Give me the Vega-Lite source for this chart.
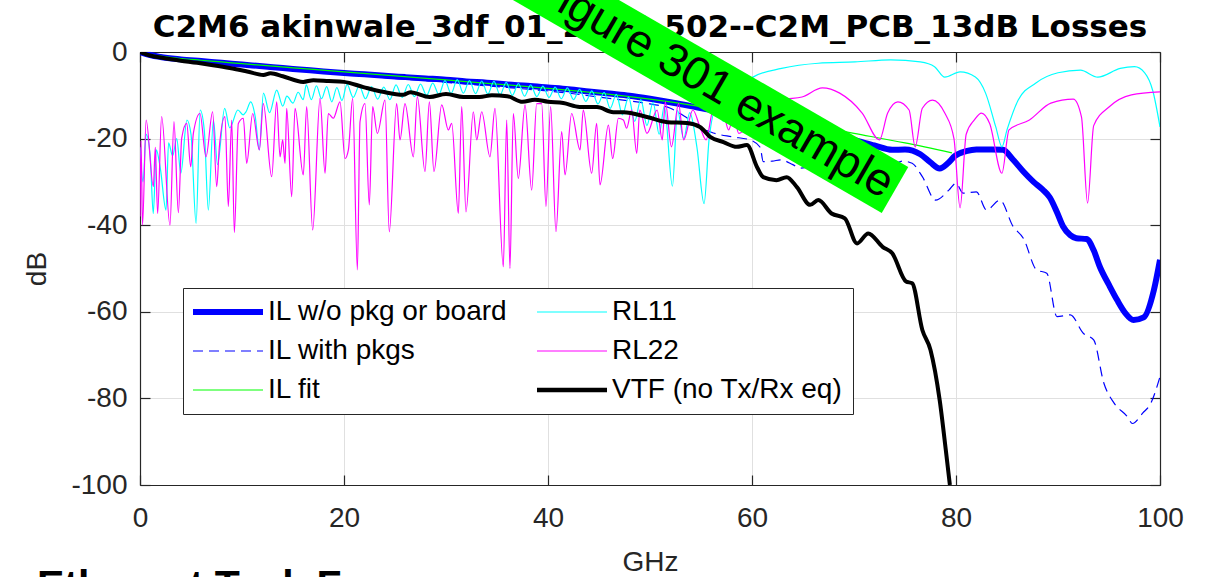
{
"$schema": "https://vega.github.io/schema/vega-lite/v6.json",
"width": 1020, "height": 433,
"autosize": {"type": "none"},
"padding": {"left": 140, "top": 52, "right": 49, "bottom": 92},
"background": "#ffffff",
"config": {
  "font": "Liberation Sans",
  "view": {"stroke": null},
  "legend": {"orient": "none", "legendX": 43, "legendY": 236, "columns": 2, "padding": 10, "strokeColor": "#262626", "fillColor": "#ffffff", "symbolType": "M-3.5,0H3.5", "symbolSize": 400, "symbolOffset": 21, "labelOffset": 26, "labelFontSize": 28, "labelFont": "Liberation Sans", "labelColor": "#000000", "labelLimit": 600, "rowPadding": 11, "columnPadding": 20, "gridAlign": "each", "symbolStrokeWidth": 1.2}
},
"datasets": {
  "A": [{"f":0,"d":0},{"f":1,"d":-0.7},{"f":2,"d":-1.15},{"f":4,"d":-1.7},{"f":6,"d":-2.1},{"f":8,"d":-2.5},{"f":10,"d":-2.9},{"f":12,"d":-3.3},{"f":14,"d":-3.7},{"f":16,"d":-4.1},{"f":18,"d":-4.5},{"f":20,"d":-4.85},{"f":22,"d":-5.15},{"f":24,"d":-5.5},{"f":26,"d":-5.8},{"f":28,"d":-6.1},{"f":30,"d":-6.4},{"f":32,"d":-6.8},{"f":34,"d":-7.1},{"f":36,"d":-7.5},{"f":38,"d":-7.8},{"f":40,"d":-8.2},{"f":42,"d":-8.6},{"f":44,"d":-9.1},{"f":46,"d":-9.6},{"f":48,"d":-10.1},{"f":50,"d":-10.8},{"f":52,"d":-11.6},{"f":54,"d":-12.5},{"f":56,"d":-13.4},{"f":58,"d":-14.2},{"f":60,"d":-15},{"f":62,"d":-16},{"f":64,"d":-17},{"f":66,"d":-18},{"f":68,"d":-19.2},{"f":70,"d":-20.3},{"f":72,"d":-21.6},{"f":73.75,"d":-22.6},{"f":75,"d":-22.5},{"f":76.5,"d":-23.6},{"f":77.5,"d":-25.5},{"f":78.4,"d":-26.9},{"f":79.2,"d":-25.7},{"f":79.9,"d":-24},{"f":81,"d":-22.9},{"f":82,"d":-22.5},{"f":83.5,"d":-22.5},{"f":84.6,"d":-22.6},{"f":85.6,"d":-24.9},{"f":86.6,"d":-27.6},{"f":87.6,"d":-30},{"f":88.5,"d":-31.8},{"f":89.2,"d":-33.6},{"f":89.9,"d":-37},{"f":90.5,"d":-40.3},{"f":91.2,"d":-42.3},{"f":91.8,"d":-43},{"f":92.8,"d":-43.2},{"f":93.5,"d":-45.8},{"f":94.1,"d":-49.6},{"f":95,"d":-53.8},{"f":95.8,"d":-57.3},{"f":96.6,"d":-60.3},{"f":97.4,"d":-61.9},{"f":98.4,"d":-61.3},{"f":99.4,"d":-55},{"f":100,"d":-48}],
  "B": [{"f":0,"d":0},{"f":1,"d":-0.8},{"f":2,"d":-1.3},{"f":4,"d":-1.8},{"f":6,"d":-2.2},{"f":8,"d":-2.7},{"f":10,"d":-3.1},{"f":12,"d":-3.5},{"f":14,"d":-3.9},{"f":16,"d":-4.4},{"f":18,"d":-4.8},{"f":20,"d":-5.2},{"f":22,"d":-5.5},{"f":24,"d":-5.9},{"f":26,"d":-6.3},{"f":28,"d":-6.6},{"f":30,"d":-7},{"f":32,"d":-7.4},{"f":34,"d":-7.8},{"f":36,"d":-8.2},{"f":38,"d":-8.6},{"f":40,"d":-9},{"f":42,"d":-9.5},{"f":44,"d":-10.1},{"f":46,"d":-10.7},{"f":48,"d":-11.3},{"f":50,"d":-12},{"f":52,"d":-13},{"f":53.6,"d":-15.2},{"f":55,"d":-17.5},{"f":56.2,"d":-18.7},{"f":58.1,"d":-19.6},{"f":59.8,"d":-20.3},{"f":60.8,"d":-22},{"f":61.1,"d":-25.3},{"f":62,"d":-25.2},{"f":62.8,"d":-24.9},{"f":64,"d":-26},{"f":64.7,"d":-26.8},{"f":66,"d":-26.5},{"f":67.5,"d":-27.5},{"f":69,"d":-27},{"f":70.5,"d":-28.5},{"f":72,"d":-27.5},{"f":73.5,"d":-26.5},{"f":74.8,"d":-25.2},{"f":75.7,"d":-25.7},{"f":76.7,"d":-28.8},{"f":78,"d":-34.2},{"f":79.3,"d":-31.9},{"f":80,"d":-30.3},{"f":80.7,"d":-32.6},{"f":82,"d":-32.3},{"f":83,"d":-36.5},{"f":84.3,"d":-34.2},{"f":85.6,"d":-40.3},{"f":86.6,"d":-43},{"f":87.9,"d":-50.3},{"f":88.9,"d":-51.1},{"f":89.9,"d":-61.1},{"f":91.2,"d":-60.7},{"f":92.5,"d":-65},{"f":93.5,"d":-66.5},{"f":94.5,"d":-76.5},{"f":95.5,"d":-81.1},{"f":96.8,"d":-84.2},{"f":97.3,"d":-85.8},{"f":98.3,"d":-83.4},{"f":99.1,"d":-81.1},{"f":100,"d":-75}],
  "C": [{"f":0,"d":0},{"f":1,"d":-0.6},{"f":2,"d":-0.95},{"f":4,"d":-1.5},{"f":6,"d":-1.9},{"f":8,"d":-2.3},{"f":10,"d":-2.7},{"f":15,"d":-3.65},{"f":20,"d":-4.6},{"f":25,"d":-5.5},{"f":30,"d":-6.45},{"f":35,"d":-7.4},{"f":40,"d":-8.4},{"f":45,"d":-9.5},{"f":50,"d":-10.9},{"f":55,"d":-12.6},{"f":60,"d":-14.6},{"f":65,"d":-16.6},{"f":70,"d":-18.8},{"f":75,"d":-21},{"f":79.6,"d":-23.3}],
  "D": [{"f":0,"d":0},{"f":1,"d":-0.8},{"f":2.3,"d":-1.4},{"f":4,"d":-2},{"f":5.6,"d":-2.5},{"f":7,"d":-3},{"f":8.8,"d":-3.7},{"f":10.5,"d":-4.5},{"f":12.1,"d":-5.3},{"f":12.8,"d":-4.9},{"f":14,"d":-5.6},{"f":16,"d":-6.9},{"f":17,"d":-6.5},{"f":18.5,"d":-6.7},{"f":20,"d":-6.9},{"f":21.9,"d":-8.1},{"f":23.8,"d":-9.2},{"f":25.8,"d":-9.9},{"f":26.5,"d":-9.3},{"f":28.4,"d":-10.4},{"f":30,"d":-9.7},{"f":31.7,"d":-10.4},{"f":33.3,"d":-10.4},{"f":34.5,"d":-10},{"f":36,"d":-10.2},{"f":37.5,"d":-11.5},{"f":38.7,"d":-11},{"f":40,"d":-11.5},{"f":41.5,"d":-11.8},{"f":43.1,"d":-12.7},{"f":44.8,"d":-12.7},{"f":46.4,"d":-13.9},{"f":47.4,"d":-13.9},{"f":49.7,"d":-15},{"f":51.7,"d":-16.2},{"f":53.6,"d":-16.4},{"f":54.9,"d":-17.3},{"f":55.9,"d":-19.6},{"f":57.2,"d":-20.8},{"f":58.5,"d":-21.9},{"f":59.5,"d":-21.5},{"f":60.5,"d":-26.6},{"f":61.1,"d":-28.9},{"f":62.4,"d":-29.6},{"f":63.4,"d":-28.9},{"f":64.4,"d":-31.2},{"f":65.7,"d":-35.3},{"f":66.5,"d":-34.2},{"f":67.8,"d":-37.3},{"f":69.1,"d":-38.4},{"f":70.3,"d":-44.2},{"f":71.4,"d":-41.9},{"f":72.8,"d":-45},{"f":73.75,"d":-46.5},{"f":75.1,"d":-53},{"f":75.7,"d":-53.4},{"f":76.7,"d":-64.2},{"f":77.5,"d":-68.8},{"f":78.4,"d":-80.4},{"f":79,"d":-91.9},{"f":79.4,"d":-100}],
  "E": [{"f":0,"d":-22},{"f":0.3,"d":-30},{"f":0.6,"d":-19},{"f":1,"d":-24},{"f":1.3,"d":-37.3},{"f":1.6,"d":-22.6},{"f":2,"d":-27},{"f":2.55,"d":-36.5},{"f":2.8,"d":-21},{"f":3.2,"d":-24},{"f":3.6,"d":-20},{"f":4,"d":-28},{"f":4.6,"d":-15.7},{"f":5,"d":-19},{"f":5.5,"d":-39.6},{"f":5.9,"d":-13.4},{"f":6.3,"d":-18},{"f":6.7,"d":-36.5},{"f":7.2,"d":-15.7},{"f":7.6,"d":-26},{"f":8.3,"d":-13},{"f":8.8,"d":-17.5},{"f":9.6,"d":-13.4},{"f":10.1,"d":-14.5},{"f":10.4,"d":-13.8},{"f":10.85,"d":-11.5},{"f":11.3,"d":-15},{"f":11.7,"d":-22.6},{"f":12.1,"d":-9.5},{"f":12.7,"d":-14},{"f":13.4,"d":-8.8},{"f":14,"d":-12.5},{"f":14.4,"d":-10.2},{"f":15,"d":-11.8},{"f":15.5,"d":-9.3},{"f":16,"d":-11},{"f":16.3,"d":-7.6},{"f":16.8,"d":-11},{"f":17.3,"d":-7.8},{"f":17.8,"d":-10.8},{"f":18.3,"d":-8},{"f":18.8,"d":-11.5},{"f":19.3,"d":-8.2},{"f":19.8,"d":-11.2},{"f":20.3,"d":-7.5},{"f":20.9,"d":-10.5},{"f":21.5,"d":-7.8},{"f":22.1,"d":-10.8},{"f":22.7,"d":-8},{"f":23.3,"d":-10.9},{"f":23.9,"d":-8.1},{"f":24.5,"d":-11},{"f":25.1,"d":-7.6},{"f":25.7,"d":-10.5},{"f":26.3,"d":-7.5},{"f":26.9,"d":-10.3},{"f":27.5,"d":-7.4},{"f":28.1,"d":-10},{"f":28.7,"d":-7.2},{"f":29.3,"d":-9.8},{"f":29.9,"d":-6.6},{"f":30.5,"d":-9.6},{"f":31.1,"d":-6.4},{"f":31.7,"d":-9.5},{"f":32.3,"d":-6.6},{"f":32.9,"d":-9.6},{"f":33.5,"d":-6.7},{"f":34.1,"d":-9.7},{"f":34.7,"d":-6.8},{"f":35.3,"d":-9.9},{"f":35.9,"d":-7},{"f":36.5,"d":-10},{"f":37.1,"d":-7.3},{"f":37.7,"d":-10.2},{"f":38.3,"d":-7.6},{"f":38.9,"d":-10.3},{"f":39.5,"d":-7.9},{"f":40.1,"d":-10.5},{"f":40.7,"d":-8.1},{"f":41.3,"d":-10.8},{"f":41.9,"d":-8.3},{"f":42.5,"d":-11},{"f":43.1,"d":-8.6},{"f":43.7,"d":-11.4},{"f":44.3,"d":-9},{"f":44.9,"d":-12},{"f":45.5,"d":-9.3},{"f":46.1,"d":-13},{"f":46.7,"d":-9.8},{"f":47.3,"d":-14.5},{"f":47.9,"d":-10.4},{"f":48.5,"d":-16},{"f":49.1,"d":-11},{"f":49.7,"d":-17},{"f":50.3,"d":-11.6},{"f":50.9,"d":-19},{"f":51.4,"d":-12.5},{"f":52.2,"d":-31},{"f":52.7,"d":-13.5},{"f":53.3,"d":-20},{"f":53.9,"d":-14},{"f":54.6,"d":-22},{"f":55.3,"d":-35},{"f":55.8,"d":-20},{"f":56.5,"d":-13},{"f":57.2,"d":-16},{"f":58,"d":-11},{"f":59,"d":-8.5},{"f":60.1,"d":-5.8},{"f":62.9,"d":-3.8},{"f":66.5,"d":-2.6},{"f":70.1,"d":-2.3},{"f":73.6,"d":-1.8},{"f":76.5,"d":-2.3},{"f":77.9,"d":-3.4},{"f":78.9,"d":-5.8},{"f":80.4,"d":-4.6},{"f":81.9,"d":-5.8},{"f":82.9,"d":-9.5},{"f":83.9,"d":-17.3},{"f":84.5,"d":-21.9},{"f":85,"d":-18},{"f":86.1,"d":-11.1},{"f":87.8,"d":-7.2},{"f":90,"d":-4.8},{"f":92.2,"d":-4.2},{"f":93.9,"d":-5.8},{"f":96.1,"d":-3.8},{"f":97.5,"d":-3.4},{"f":98.5,"d":-4.8},{"f":99.3,"d":-9},{"f":100,"d":-17.3}],
  "F": [{"f":0,"d":-38},{"f":0.1,"d":-20.5},{"f":0.25,"d":-40},{"f":0.6,"d":-15.7},{"f":1.31,"d":-31.1},{"f":1.5,"d":-22},{"f":1.73,"d":-37.3},{"f":2.12,"d":-14.9},{"f":2.94,"d":-40},{"f":3.33,"d":-16.1},{"f":3.76,"d":-37.1},{"f":4.09,"d":-19.9},{"f":4.58,"d":-16.5},{"f":4.97,"d":-26.5},{"f":5.23,"d":-18.8},{"f":5.88,"d":-14.2},{"f":6.47,"d":-24.2},{"f":7.12,"d":-13.8},{"f":7.52,"d":-31.1},{"f":7.78,"d":-21.9},{"f":8.33,"d":-14.9},{"f":8.66,"d":-35.7},{"f":8.99,"d":-15.7},{"f":9.25,"d":-41.7},{"f":9.64,"d":-16.5},{"f":10.13,"d":-15.3},{"f":10.46,"d":-25.7},{"f":11.05,"d":-14.2},{"f":11.7,"d":-22.6},{"f":12.09,"d":-11.9},{"f":12.91,"d":-28.8},{"f":13.4,"d":-11.5},{"f":13.73,"d":-24.2},{"f":13.99,"d":-20.3},{"f":14.22,"d":-25.7},{"f":14.38,"d":-13},{"f":14.87,"d":-33.4},{"f":15.2,"d":-13},{"f":16.01,"d":-28.4},{"f":16.34,"d":-12.6},{"f":16.93,"d":-41.1},{"f":17.65,"d":-10.7},{"f":18.14,"d":-28},{"f":18.46,"d":-14.2},{"f":18.95,"d":-15.3},{"f":19.61,"d":-11.5},{"f":20.1,"d":-24.6},{"f":20.43,"d":-22.6},{"f":20.85,"d":-10.7},{"f":21.31,"d":-50.3},{"f":21.57,"d":-16.1},{"f":22.06,"d":-11.9},{"f":22.48,"d":-35.3},{"f":22.81,"d":-12.6},{"f":23.27,"d":-18.8},{"f":24.02,"d":-11.1},{"f":24.44,"d":-41.5},{"f":25.16,"d":-11.9},{"f":25.49,"d":-20.3},{"f":25.98,"d":-11.9},{"f":26.8,"d":-24.2},{"f":27.19,"d":-10.3},{"f":27.94,"d":-27.6},{"f":28.37,"d":-11.5},{"f":28.82,"d":-27.6},{"f":29.58,"d":-12.2},{"f":30.23,"d":-18},{"f":30.56,"d":-16.5},{"f":31.21,"d":-37.3},{"f":31.54,"d":-12.6},{"f":31.96,"d":-36.9},{"f":32.68,"d":-13.8},{"f":33.01,"d":-20.3},{"f":33.5,"d":-13.8},{"f":34.31,"d":-24.2},{"f":34.8,"d":-13},{"f":35.62,"d":-49.6},{"f":35.95,"d":-15.7},{"f":36.27,"d":-50},{"f":36.6,"d":-14.2},{"f":37.09,"d":-29.2},{"f":37.75,"d":-12.2},{"f":38.4,"d":-31.9},{"f":38.89,"d":-11.9},{"f":39.38,"d":-11.9},{"f":39.8,"d":-35.7},{"f":40.26,"d":-12.6},{"f":40.78,"d":-41.5},{"f":41.34,"d":-18.4},{"f":41.67,"d":-28.4},{"f":42.32,"d":-14.2},{"f":43.14,"d":-22.6},{"f":43.46,"d":-13.4},{"f":44.28,"d":-28},{"f":44.77,"d":-16.5},{"f":45.1,"d":-30.7},{"f":45.92,"d":-16.9},{"f":46.34,"d":-24.6},{"f":46.9,"d":-15.3},{"f":47.39,"d":-15.7},{"f":47.71,"d":-17.6},{"f":48.2,"d":-13.4},{"f":48.7,"d":-23.4},{"f":49,"d":-13.4},{"f":49.7,"d":-18.8},{"f":50.7,"d":-13.4},{"f":51.2,"d":-20.3},{"f":51.5,"d":-11.5},{"f":52.1,"d":-21.9},{"f":52.8,"d":-11.9},{"f":53.3,"d":-20.3},{"f":54.2,"d":-13.4},{"f":54.9,"d":-17.3},{"f":55.5,"d":-20.3},{"f":56.2,"d":-13.4},{"f":57.2,"d":-14.2},{"f":57.7,"d":-18},{"f":58.2,"d":-14.9},{"f":58.7,"d":-18.8},{"f":60,"d":-16},{"f":61.5,"d":-13},{"f":63,"d":-11},{"f":64.9,"d":-10.4},{"f":66.9,"d":-8.3},{"f":68.6,"d":-9.5},{"f":70.8,"d":-14.1},{"f":72.5,"d":-20.3},{"f":73.3,"d":-14.1},{"f":74.3,"d":-11.5},{"f":75.4,"d":-13.4},{"f":76,"d":-21.9},{"f":76.7,"d":-13},{"f":77.7,"d":-11.1},{"f":78.9,"d":-14.1},{"f":79.8,"d":-20},{"f":80.4,"d":-36},{"f":81,"d":-19},{"f":81.8,"d":-15.7},{"f":82.5,"d":-14.1},{"f":83.3,"d":-16.5},{"f":84.5,"d":-28},{"f":85.2,"d":-18},{"f":87.2,"d":-15.7},{"f":89.3,"d":-11.8},{"f":91.5,"d":-10.9},{"f":92.3,"d":-15},{"f":92.9,"d":-34.9},{"f":93.5,"d":-17},{"f":95,"d":-12.7},{"f":97.2,"d":-9.9},{"f":100,"d":-9.2}]
},
"layer": [
  {
    "data": {"name": "A"},
    "mark": {"type": "line", "clip": true, "interpolate": "monotone", "strokeWidth": 6, "strokeJoin": "round"},
    "encoding": {
      "x": {"field": "f", "type": "quantitative", "scale": {"domain": [0, 100], "nice": false, "zero": false},
        "axis": {"orient": "bottom", "values": [0, 20, 40, 60, 80, 100], "labelExpr": "'' + datum.value", "title": "GHz", "grid": true, "gridColor": "#e0e0e0", "gridWidth": 1, "tickSize": -10, "tickColor": "#262626", "tickWidth": 1.2, "domainColor": "#262626", "domainWidth": 1.2, "labelFontSize": 28, "labelFont": "Liberation Sans", "labelColor": "#262626", "labelPadding": 29, "labelFlush": false, "labelOverlap": false, "titleFont": "Liberation Sans", "titleFontSize": 28, "titleFontWeight": "normal", "titleColor": "#262626", "titleX": 510, "titleY": 77, "titleBaseline": "middle", "titleAlign": "center", "titleAnchor": null}},
      "y": {"field": "d", "type": "quantitative", "scale": {"domain": [-100, 0], "nice": false, "zero": false},
        "axis": {"orient": "left", "values": [-100, -80, -60, -40, -20, 0], "labelExpr": "'' + datum.value", "title": "dB", "grid": true, "gridColor": "#e0e0e0", "gridWidth": 1, "tickSize": -10, "tickColor": "#262626", "tickWidth": 1.2, "domainColor": "#262626", "domainWidth": 1.2, "labelFontSize": 28, "labelFont": "Liberation Sans", "labelColor": "#262626", "labelPadding": 23, "labelFlush": false, "labelOverlap": false, "titleFont": "Liberation Sans", "titleFontSize": 28, "titleFontWeight": "normal", "titleColor": "#262626", "titleX": -103, "titleY": 216.5, "titleAngle": -90, "titleBaseline": "middle", "titleAlign": "center", "titleAnchor": null}},
      "color": {"datum": "IL w/o pkg or board", "type": "nominal",
        "scale": {"domain": ["IL w/o pkg or board", "IL with pkgs", "IL fit", "RL11", "RL22", "VTF (no Tx/Rx eq)"], "range": ["#0000ff", "#0000ff", "#00ff00", "#00ffff", "#ff00ff", "#000000"]},
        "legend": {"title": null, "encode": {"symbols": {"update": {"fill": {"value": "transparent"}, "strokeWidth": {"signal": "datum.value === 'IL w/o pkg or board' ? 6 : datum.value === 'VTF (no Tx/Rx eq)' ? 4.5 : 1.2"}, "strokeDash": {"signal": "datum.value === 'IL with pkgs' ? [10,6] : [1,0]"}, "opacity": {"value": 1}}}}}}
    }
  },
  {
    "data": {"name": "B"},
    "mark": {"type": "line", "clip": true, "interpolate": "monotone", "strokeWidth": 1.2, "strokeDash": [10, 6]},
    "encoding": {
      "x": {"field": "f", "type": "quantitative", "scale": {"domain": [0, 100], "nice": false, "zero": false}, "axis": null},
      "y": {"field": "d", "type": "quantitative", "scale": {"domain": [-100, 0], "nice": false, "zero": false}, "axis": null},
      "color": {"datum": "IL with pkgs", "type": "nominal"}
    }
  },
  {
    "data": {"name": "C"},
    "mark": {"type": "line", "clip": true, "interpolate": "monotone", "strokeWidth": 1.2},
    "encoding": {
      "x": {"field": "f", "type": "quantitative", "scale": {"domain": [0, 100], "nice": false, "zero": false},
        "axis": {"orient": "top", "values": [0, 20, 40, 60, 80, 100], "title": null, "labels": false, "grid": false, "tickSize": -10, "tickColor": "#262626", "tickWidth": 1.2, "domainColor": "#262626", "domainWidth": 1.2}},
      "y": {"field": "d", "type": "quantitative", "scale": {"domain": [-100, 0], "nice": false, "zero": false},
        "axis": {"orient": "right", "values": [-100, -80, -60, -40, -20, 0], "title": null, "labels": false, "grid": false, "tickSize": -10, "tickColor": "#262626", "tickWidth": 1.2, "domainColor": "#262626", "domainWidth": 1.2}},
      "color": {"datum": "IL fit", "type": "nominal"}
    }
  },
  {
    "data": {"name": "E"},
    "mark": {"type": "line", "clip": true, "interpolate": "monotone", "strokeWidth": 1.2},
    "encoding": {
      "x": {"field": "f", "type": "quantitative", "scale": {"domain": [0, 100], "nice": false, "zero": false}, "axis": null},
      "y": {"field": "d", "type": "quantitative", "scale": {"domain": [-100, 0], "nice": false, "zero": false}, "axis": null},
      "color": {"datum": "RL11", "type": "nominal"}
    }
  },
  {
    "data": {"name": "F"},
    "mark": {"type": "line", "clip": true, "interpolate": "monotone", "strokeWidth": 1.2},
    "encoding": {
      "x": {"field": "f", "type": "quantitative", "scale": {"domain": [0, 100], "nice": false, "zero": false}, "axis": null},
      "y": {"field": "d", "type": "quantitative", "scale": {"domain": [-100, 0], "nice": false, "zero": false}, "axis": null},
      "color": {"datum": "RL22", "type": "nominal"}
    }
  },
  {
    "data": {"name": "D"},
    "mark": {"type": "line", "clip": true, "interpolate": "monotone", "strokeWidth": 4, "strokeJoin": "round"},
    "encoding": {
      "x": {"field": "f", "type": "quantitative", "scale": {"domain": [0, 100], "nice": false, "zero": false}, "axis": null},
      "y": {"field": "d", "type": "quantitative", "scale": {"domain": [-100, 0], "nice": false, "zero": false}, "axis": null},
      "color": {"datum": "VTF (no Tx/Rx eq)", "type": "nominal"}
    }
  },
  {
    "data": {"values": [{}]},
    "mark": {"type": "text", "text": "C2M6 akinwale_3df_01_2305_502--C2M_PCB_13dB Losses", "font": "DejaVu Sans", "fontWeight": "bold", "fontSize": 31, "align": "center", "baseline": "alphabetic", "color": "#000000"},
    "encoding": {
      "x": {"datum": 50, "type": "quantitative", "scale": {"domain": [0, 100], "nice": false, "zero": false}, "axis": null},
      "y": {"datum": 3.46, "type": "quantitative", "scale": {"domain": [-100, 0], "nice": false, "zero": false}, "axis": null}
    }
  },
  {
    "data": {"values": [{}]},
    "mark": {"type": "text", "text": "Ethernet Task Force", "font": "Liberation Sans", "fontWeight": "bold", "fontSize": 41, "align": "left", "baseline": "alphabetic", "color": "#000000"},
    "encoding": {
      "x": {"datum": -10.1, "type": "quantitative", "scale": {"domain": [0, 100], "nice": false, "zero": false}, "axis": null},
      "y": {"datum": -126.3, "type": "quantitative", "scale": {"domain": [-100, 0], "nice": false, "zero": false}, "axis": null}
    }
  },
  {
    "data": {"values": [{}]},
    "mark": {"type": "rule", "color": "#00ff00", "strokeWidth": 53, "strokeCap": "butt"},
    "encoding": {
      "x": {"datum": 25.49, "type": "quantitative", "scale": {"domain": [0, 100], "nice": false, "zero": false}, "axis": null},
      "y": {"datum": 34.13, "type": "quantitative", "scale": {"domain": [-100, 0], "nice": false, "zero": false}, "axis": null},
      "x2": {"datum": 74.02},
      "y2": {"datum": -31.87}
    }
  },
  {
    "data": {"values": [{}]},
    "mark": {"type": "text", "text": "Figure 301 example", "font": "Liberation Sans", "fontSize": 46, "angle": 30, "align": "right", "baseline": "middle", "color": "#000000"},
    "encoding": {
      "x": {"datum": 73.53, "type": "quantitative", "scale": {"domain": [0, 100], "nice": false, "zero": false}, "axis": null},
      "y": {"datum": -31.18, "type": "quantitative", "scale": {"domain": [-100, 0], "nice": false, "zero": false}, "axis": null}
    }
  }
],
"resolve": {"axis": {"x": "independent", "y": "independent"}}
}
